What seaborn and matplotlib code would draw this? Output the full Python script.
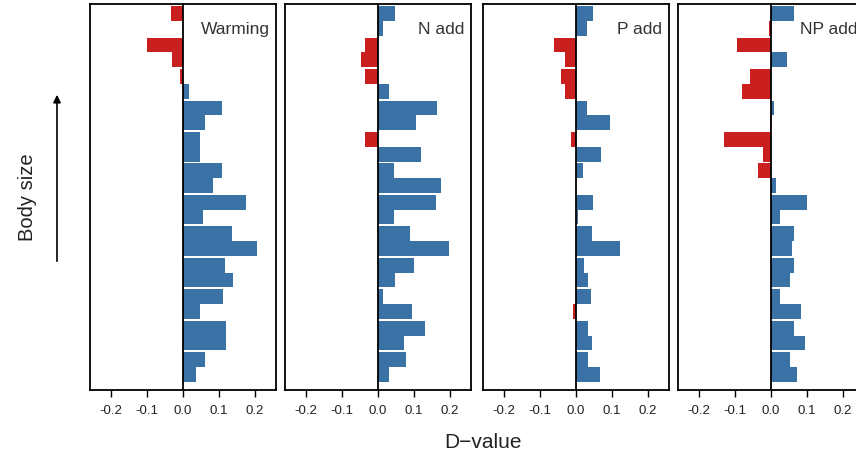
import numpy as np
import pandas as pd
import seaborn as sns
import matplotlib.pyplot as plt

# D-values per size class, top (largest body size) to bottom
panels = ["Warming", "N add", "P add", "NP add"]
warming = [-0.034, 0.0, -0.10, -0.031, -0.007, 0.018, 0.107, 0.062, 0.048, 0.048, 0.107, 0.084,
           0.176, 0.055, 0.135, 0.204, 0.116, 0.139, 0.111, 0.048, 0.119, 0.119, 0.060, 0.037]
n_add = [0.046, 0.013, -0.037, -0.046, -0.035, 0.031, 0.164, 0.105, -0.035, 0.118, 0.044, 0.175,
         0.160, 0.044, 0.090, 0.198, 0.100, 0.048, 0.013, 0.094, 0.130, 0.071, 0.078, 0.031]
p_add = [0.046, 0.030, -0.060, -0.031, -0.043, -0.031, 0.030, 0.093, -0.014, 0.069, 0.019, 0.0,
         0.048, 0.005, 0.043, 0.122, 0.023, 0.032, 0.042, -0.009, 0.032, 0.043, 0.032, 0.067]
np_add = [0.065, -0.006, -0.093, 0.043, -0.057, -0.080, 0.009, -0.004, -0.131, -0.023, -0.036, 0.014,
          0.099, 0.025, 0.064, 0.059, 0.064, 0.053, 0.025, 0.083, 0.064, 0.094, 0.053, 0.071]
xticks = [-0.2, -0.1, 0.0, 0.1, 0.2]

sns.set_theme(style="white")
plt.rcParams['font.family'] = ['Liberation Sans', 'DejaVu Sans']

blue = "#3a72a6"
red = "#c9201f"
gap = 0.13

fig = plt.figure(figsize=(8.56, 4.56), dpi=100)
W, H = 856, 456
lefts = [90, 285, 483, 678]
pw = 186
top_px, bot_px = 5, 391

for name, vals, lx in zip(panels, [warming, n_add, p_add, np_add], lefts):
    ax = fig.add_axes([lx / W, (H - bot_px) / H, pw / W, (bot_px - top_px) / H])
    k = np.arange(len(vals))
    df = pd.DataFrame({"d": vals, "pos": k + (k // 2) * gap})
    df["sign"] = np.where(df["d"] < 0, "neg", "pos")
    sns.barplot(data=df, x="d", y="pos", hue="sign", orient="h", native_scale=True,
                palette={"neg": red, "pos": blue}, dodge=False, width=1.0, saturation=1,
                legend=False, ax=ax, edgecolor="none", linewidth=0)
    last = df["pos"].max()
    ax.set_ylim(last + 0.5 + 0.55, -0.5 - 0.14)
    ax.set_xlim(-0.258, 0.258)
    ax.axvline(0, color="black", lw=1.3, zorder=5)
    ax.set_yticks([])
    ax.set_xticks(xticks)
    ax.set_xticklabels([f"{t:.1f}" for t in xticks], fontsize=9.5, color="#222222")
    ax.tick_params(axis="x", direction="out", length=5, width=1, color="black",
                   bottom=True, pad=5)
    ax.set_xlabel("")
    ax.set_ylabel("")
    for s in ax.spines.values():
        s.set_color("black")
        s.set_linewidth(1.3)
    ax.text(0.965, 0.955, name, transform=ax.transAxes, ha="right", va="top",
            fontsize=12.5, color="#333333")

fig.text(483 / W, 1 - 443 / H, "D\u2212value", ha="center", va="center", fontsize=15,
         color="#222222")
fig.text(28 / W, 1 - 197 / H, "Body size", ha="center", va="center", rotation=90,
         fontsize=14.5, color="#222222")
fig.add_artist(plt.matplotlib.patches.FancyArrowPatch(
    (57 / W, 1 - 265 / H), (57 / W, 1 - 93 / H), transform=fig.transFigure,
    arrowstyle="-|>", mutation_scale=11, color="black", lw=1.2))

fig.savefig("out.png", dpi=100)
